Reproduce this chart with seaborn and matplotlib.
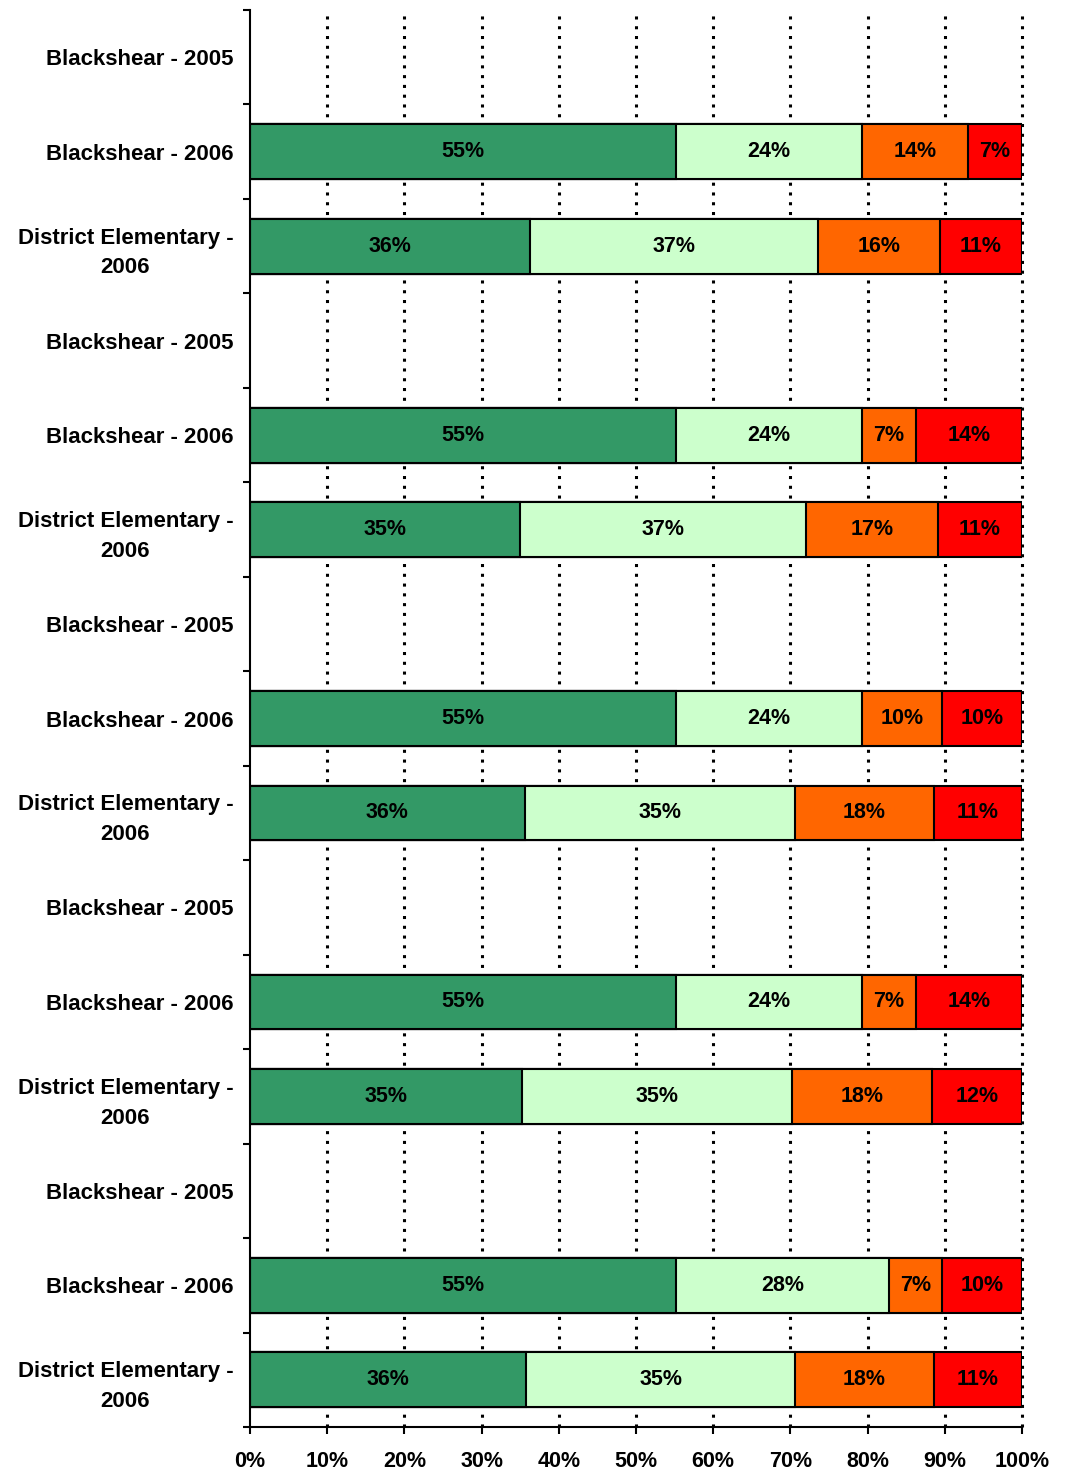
import matplotlib.pyplot as plt
import seaborn as sns
import pandas as pd
import numpy as np

# data
labels = ['Blackshear - 2005', 'Blackshear - 2006', 'District Elementary -\n2006'] * 5
row_keys = [f'r{i}' for i in range(15)]
seg1 = [np.nan, 55.2, 36.3, np.nan, 55.2, 35.0, np.nan, 55.2, 35.6, np.nan, 55.2, 35.2, np.nan, 55.2, 35.8]
seg2 = [np.nan, 24.1, 37.3, np.nan, 24.1, 37.0, np.nan, 24.1, 35.0, np.nan, 24.1, 35.0, np.nan, 27.6, 34.8]
seg3 = [np.nan, 13.7, 15.8, np.nan, 7.0, 17.1, np.nan, 10.3, 18.0, np.nan, 7.0, 18.1, np.nan, 6.9, 18.0]
seg4 = [np.nan, 7.0, 10.6, np.nan, 13.7, 10.9, np.nan, 10.4, 11.4, np.nan, 13.7, 11.7, np.nan, 10.3, 11.4]
colors = ['#339966', '#CCFFCC', '#FF6600', '#FF0000']

df = pd.DataFrame({'row': row_keys, 's1': seg1, 's2': seg2, 's3': seg3, 's4': seg4})
segs = ['s1', 's2', 's3', 's4']
cum = df[segs].cumsum(axis=1)

sns.set_style('white')
plt.rcParams['font.family'] = ['Liberation Sans', 'DejaVu Sans']
plt.rcParams['font.weight'] = 'bold'
plt.rcParams['text.color'] = 'black'
plt.rcParams['xtick.color'] = 'black'
plt.rcParams['ytick.color'] = 'black'

fig = plt.figure(figsize=(10.65, 14.73), dpi=100)
ax = fig.add_axes([0.2347, 0.0312, 0.7249, 0.962])

# vertical dotted grid behind the bars
for xv in range(10, 101, 10):
    ax.axvline(xv, color='black', lw=2.2, linestyle=(0, (1, 2.2)), zorder=0, clip_on=False)

# stacked bars: draw cumulative totals from longest to shortest
for i in range(3, -1, -1):
    sns.barplot(x=cum[segs[i]], y=df['row'], orient='h', color=colors[i],
                width=0.58, edgecolor='black', linewidth=1.5, saturation=1,
                ax=ax, zorder=2)

# segment labels
for r in range(len(df)):
    left = 0
    for s in segs:
        v = df.loc[r, s]
        if np.isnan(v):
            continue
        ax.text(left + v / 2, r, f'{v:.0f}%', ha='center', va='center',
                fontsize=15.5, fontweight='bold', color='black', zorder=3)
        left += v

ax.set_xlim(0, 100)
ax.set_ylim(14.5, -0.5)
ax.set_xlabel('')
ax.set_ylabel('')
ax.set_xticks(range(0, 101, 10))
ax.set_xticklabels([f'{v}%' for v in range(0, 101, 10)], fontsize=15.5, fontweight='bold')
ax.set_yticks(range(15))
ax.set_yticklabels(labels, fontsize=16, fontweight='bold', linespacing=1.55,
                   multialignment='center')
ax.set_yticks(np.arange(-0.5, 15, 1), minor=True)
ax.tick_params(axis='y', which='major', length=0, pad=12)
ax.tick_params(axis='y', which='minor', length=5, width=1.5, color='black', left=True)
ax.tick_params(axis='x', which='major', length=5, width=1.5, color='black', bottom=True, pad=12)

for side in ['top', 'right']:
    ax.spines[side].set_visible(False)
for side in ['left', 'bottom']:
    ax.spines[side].set_color('black')
    ax.spines[side].set_linewidth(1.5)

fig.savefig('out.png', dpi=100)
